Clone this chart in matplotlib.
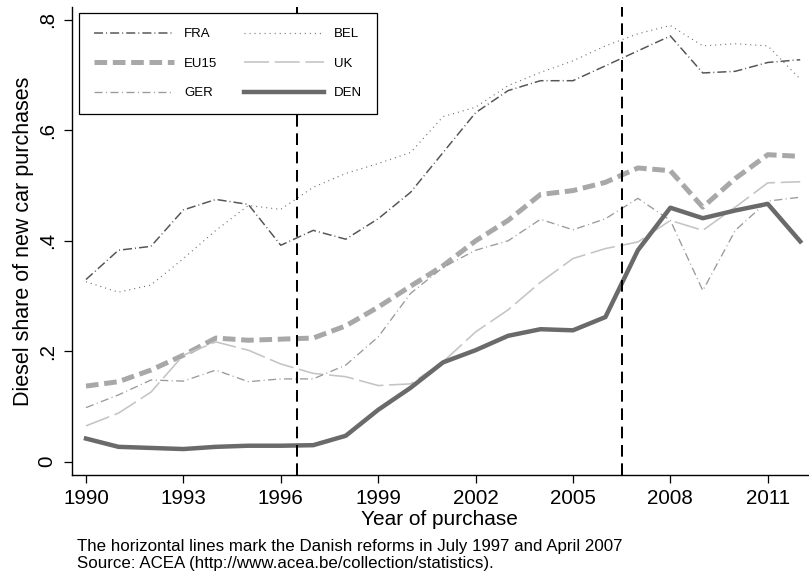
import matplotlib
matplotlib.use("Agg")
import matplotlib.pyplot as plt

plt.rcParams['font.family'] = ['Liberation Sans', 'DejaVu Sans']
plt.rcParams['lines.scale_dashes'] = False

years = list(range(1990, 2013))
fra = [0.330, 0.383, 0.390, 0.456, 0.475, 0.466, 0.392, 0.419, 0.403, 0.440, 0.488, 0.560, 0.632,
       0.672, 0.690, 0.690, 0.717, 0.744, 0.771, 0.704, 0.707, 0.723, 0.728]
bel = [0.326, 0.307, 0.320, 0.368, 0.419, 0.464, 0.457, 0.497, 0.522, 0.540, 0.560, 0.625, 0.642,
       0.681, 0.705, 0.726, 0.753, 0.775, 0.790, 0.753, 0.757, 0.753, 0.693]
eu15 = [0.137, 0.145, 0.166, 0.193, 0.224, 0.220, 0.222, 0.224, 0.246, 0.280, 0.318, 0.355, 0.400,
        0.437, 0.484, 0.491, 0.506, 0.532, 0.527, 0.461, 0.513, 0.556, 0.553]
uk = [0.065, 0.088, 0.126, 0.193, 0.217, 0.202, 0.177, 0.160, 0.154, 0.138, 0.141, 0.181, 0.235,
      0.275, 0.325, 0.368, 0.386, 0.398, 0.437, 0.419, 0.461, 0.505, 0.507]
ger = [0.098, 0.121, 0.148, 0.146, 0.166, 0.145, 0.150, 0.150, 0.175, 0.226, 0.305, 0.352, 0.383,
       0.400, 0.439, 0.420, 0.440, 0.477, 0.437, 0.310, 0.419, 0.472, 0.479]
den = [0.042, 0.027, 0.025, 0.023, 0.027, 0.029, 0.029, 0.030, 0.047, 0.094, 0.134, 0.180, 0.202,
       0.228, 0.240, 0.238, 0.262, 0.383, 0.460, 0.441, 0.455, 0.467, 0.399]
reforms = [1996.5, 2006.5]
xticks = [1990, 1993, 1996, 1999, 2002, 2005, 2008, 2011]
yticks = [0, 0.2, 0.4, 0.6, 0.8]
yticklabels = ['0', '.2', '.4', '.6', '.8']

fig = plt.figure(figsize=(8.09, 5.78), dpi=100)
ax = fig.add_axes([71.7/809, 103/578, 736.3/809, 468.3/578])

h_fra, = ax.plot(years, fra, color='#555555', lw=1.08, ls=(0, (6.5, 2.2, 0.7, 2.2)), label='FRA')
h_bel, = ax.plot(years, bel, color='#6a6a6a', lw=0.85, ls=(0, (0.72, 2.9)), label='BEL')
h_eu, = ax.plot(years, eu15, color='#a8a8a8', lw=3.6, ls=(0, (9.1, 4.1)), label='EU15')
h_uk, = ax.plot(years, uk, color='#c4c4c4', lw=1.15, ls=(0, (18, 4.1)), label='UK')
h_ger, = ax.plot(years, ger, color='#9a9a9a', lw=0.95, ls=(0, (5.8, 2.5, 0.7, 2.5)), label='GER')
h_den, = ax.plot(years, den, color='#6a6a6a', lw=3.2, ls='-', label='DEN', zorder=5)

for r in reforms:
    ax.axvline(r, color='black', lw=1.45, ls=(0, (8.4, 4.8)), zorder=6)

ax.set_xlim(1989.56, 2012.24)
ax.set_ylim(-0.024, 0.824)
ax.set_xticks(xticks)
ax.set_xticklabels([str(x) for x in xticks], fontsize=14.8)
ax.set_yticks(yticks)
ax.set_yticklabels(yticklabels, fontsize=14.8, rotation=90, va='center')
ax.spines['top'].set_visible(False)
ax.spines['right'].set_visible(False)
for s in ('left', 'bottom'):
    ax.spines[s].set_linewidth(1.0)
ax.tick_params(axis='both', direction='out', length=5.8, width=0.9)
ax.tick_params(axis='x', pad=4)
ax.tick_params(axis='y', pad=5)
ax.set_xlabel('Year of purchase', fontsize=15, labelpad=2)
ax.set_ylabel('Diesel share of new car purchases', fontsize=15.5, labelpad=3)

leg = ax.legend(handles=[h_fra, h_eu, h_ger, h_bel, h_uk, h_den], ncol=2,
                loc='upper left', bbox_to_anchor=(0.0103, 0.9861), borderaxespad=0,
                fontsize=9.5, handlelength=6.06, handletextpad=0.75, columnspacing=2.04,
                labelspacing=1.3, fancybox=False, edgecolor='black', framealpha=1,
                borderpad=1.13)
leg.get_frame().set_linewidth(0.9)
leg.set_zorder(10)

fig.text(77/809, 1 - 546.5/578, 'The horizontal lines mark the Danish reforms in July 1997 and April 2007',
         fontsize=12.2, va='center', ha='left')
fig.text(77/809, 1 - 563.5/578, 'Source: ACEA (http://www.acea.be/collection/statistics).',
         fontsize=12.2, va='center', ha='left')

fig.savefig('out.png', dpi=100)
